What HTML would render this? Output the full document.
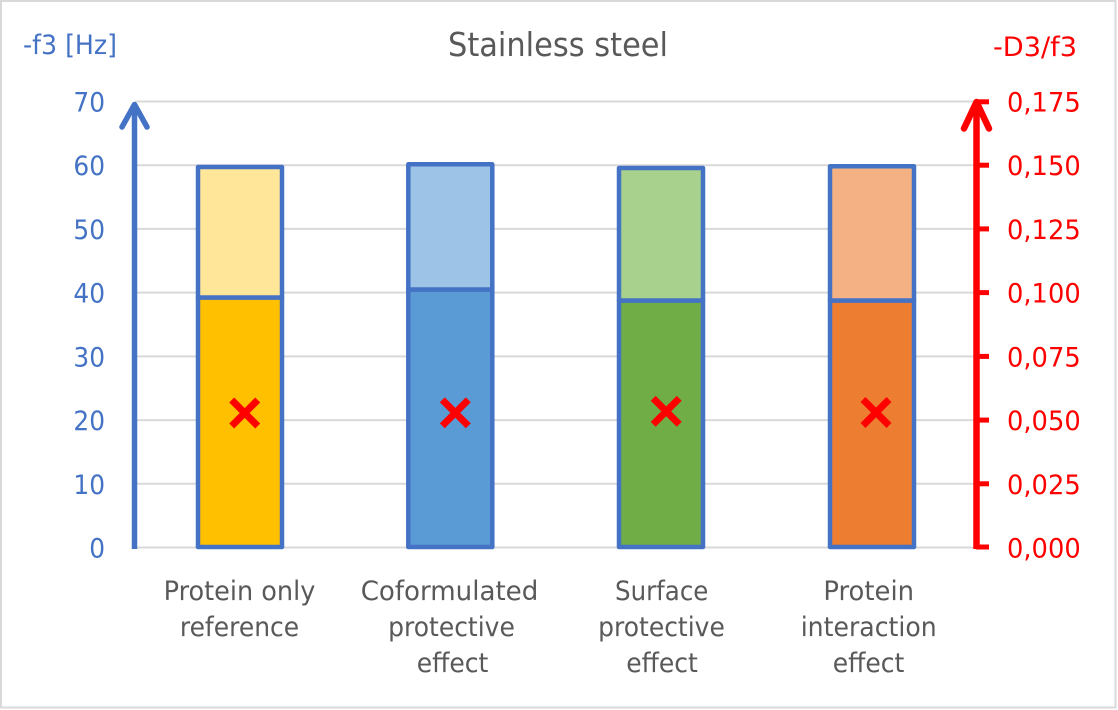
<!DOCTYPE html>
<html>
<head>
<meta charset="utf-8">
<style>
  html, body { margin:0; padding:0; background:#fff; }
  body { width:1118px; height:710px; overflow:hidden; }
  svg { display:block; }
  text { font-family: "DejaVu Sans", "Liberation Sans", sans-serif; }
</style>
</head>
<body>
<svg width="1118" height="710" viewBox="0 0 1118 710" xmlns="http://www.w3.org/2000/svg">
  <rect x="0" y="0" width="1118" height="710" fill="#fff"/>
  <rect x="1" y="1" width="1114.5" height="706.5" fill="none" stroke="#D9D9D9" stroke-width="2"/>

  <text x="558" y="56" font-size="33" fill="#595959" text-anchor="middle" textLength="220" lengthAdjust="spacingAndGlyphs">Stainless steel</text>

  <text x="23" y="54" font-size="27" fill="#4472C4" textLength="94" lengthAdjust="spacingAndGlyphs">-f3 [Hz]</text>
  <text x="993" y="56" font-size="27" fill="#FF0000" textLength="84" lengthAdjust="spacingAndGlyphs">-D3/f3</text>

  <g stroke="#D9D9D9" stroke-width="2">
    <line x1="135" y1="101.5" x2="976" y2="101.5"/>
    <line x1="135" y1="165.2" x2="976" y2="165.2"/>
    <line x1="135" y1="228.9" x2="976" y2="228.9"/>
    <line x1="135" y1="292.6" x2="976" y2="292.6"/>
    <line x1="135" y1="356.4" x2="976" y2="356.4"/>
    <line x1="135" y1="420.1" x2="976" y2="420.1"/>
    <line x1="135" y1="483.8" x2="976" y2="483.8"/>
    <line x1="135" y1="547.5" x2="976" y2="547.5"/>
  </g>

  <g font-size="27" fill="#4472C4" text-anchor="end">
    <text x="105" y="111.5" textLength="31.6" lengthAdjust="spacingAndGlyphs">70</text>
    <text x="105" y="175.2" textLength="31.6" lengthAdjust="spacingAndGlyphs">60</text>
    <text x="105" y="238.9" textLength="31.6" lengthAdjust="spacingAndGlyphs">50</text>
    <text x="105" y="302.6" textLength="31.6" lengthAdjust="spacingAndGlyphs">40</text>
    <text x="105" y="366.4" textLength="31.6" lengthAdjust="spacingAndGlyphs">30</text>
    <text x="105" y="430.1" textLength="31.6" lengthAdjust="spacingAndGlyphs">20</text>
    <text x="105" y="493.8" textLength="31.6" lengthAdjust="spacingAndGlyphs">10</text>
    <text x="105" y="557.5" textLength="15.8" lengthAdjust="spacingAndGlyphs">0</text>
  </g>

  <g font-size="27" fill="#FF0000">
    <text x="1007" y="111.5" textLength="73.7" lengthAdjust="spacingAndGlyphs">0,175</text>
    <text x="1007" y="175.2" textLength="73.7" lengthAdjust="spacingAndGlyphs">0,150</text>
    <text x="1007" y="238.9" textLength="73.7" lengthAdjust="spacingAndGlyphs">0,125</text>
    <text x="1007" y="302.6" textLength="73.7" lengthAdjust="spacingAndGlyphs">0,100</text>
    <text x="1007" y="366.4" textLength="73.7" lengthAdjust="spacingAndGlyphs">0,075</text>
    <text x="1007" y="430.1" textLength="73.7" lengthAdjust="spacingAndGlyphs">0,050</text>
    <text x="1007" y="493.8" textLength="73.7" lengthAdjust="spacingAndGlyphs">0,025</text>
    <text x="1007" y="557.5" textLength="73.7" lengthAdjust="spacingAndGlyphs">0,000</text>
  </g>

  <g stroke="#4472C4" stroke-width="4.5" stroke-linejoin="round">
    <rect x="198" y="297.5" width="84" height="249.5" fill="#FFC000"/>
    <rect x="198" y="167" width="84" height="130.5" fill="#FFE699"/>
    <rect x="408.3" y="289.5" width="84" height="257.5" fill="#5B9BD5"/>
    <rect x="408.3" y="164.3" width="84" height="125.2" fill="#9DC3E6"/>
    <rect x="619" y="300.5" width="84" height="246.5" fill="#70AD47"/>
    <rect x="619" y="168" width="84" height="132.5" fill="#A9D18E"/>
    <rect x="830" y="300.5" width="84" height="246.5" fill="#ED7D31"/>
    <rect x="830" y="166.3" width="84" height="134.2" fill="#F4B183"/>
  </g>

  <g stroke="#FF0000" stroke-width="7">
    <line x1="231.7" y1="400" x2="257.7" y2="426"/>
    <line x1="231.7" y1="426" x2="257.7" y2="400"/>
    <line x1="442.3" y1="399.8" x2="468.3" y2="425.8"/>
    <line x1="442.3" y1="425.8" x2="468.3" y2="399.8"/>
    <line x1="653.2" y1="398.3" x2="679.2" y2="424.3"/>
    <line x1="653.2" y1="424.3" x2="679.2" y2="398.3"/>
    <line x1="863" y1="399.5" x2="889" y2="425.5"/>
    <line x1="863" y1="425.5" x2="889" y2="399.5"/>
  </g>

  <line x1="134.5" y1="549" x2="134.5" y2="106" stroke="#4472C4" stroke-width="5.5"/>
  <polyline points="122,127 134.5,104.5 147,127" fill="none" stroke="#4472C4" stroke-width="5.5" stroke-linecap="round" stroke-linejoin="round"/>

  <g stroke="#FF0000">
    <line x1="976.5" y1="549" x2="976.5" y2="103" stroke-width="6.5"/>
    <g stroke-width="5">
      <line x1="976" y1="101.8" x2="989" y2="101.8"/>
      <line x1="976" y1="165.2" x2="989" y2="165.2"/>
      <line x1="976" y1="228.9" x2="989" y2="228.9"/>
      <line x1="976" y1="292.6" x2="989" y2="292.6"/>
      <line x1="976" y1="356.4" x2="989" y2="356.4"/>
      <line x1="976" y1="420.1" x2="989" y2="420.1"/>
      <line x1="976" y1="483.8" x2="989" y2="483.8"/>
      <line x1="976" y1="547" x2="989" y2="547"/>
    </g>
  </g>
  <polyline points="964,128.5 976.5,102 989,128.5" fill="none" stroke="#FF0000" stroke-width="6.5" stroke-linecap="round" stroke-linejoin="round"/>

  <g font-size="27" fill="#595959" text-anchor="middle">
    <text x="239.5" y="600" textLength="151.7" lengthAdjust="spacingAndGlyphs">Protein only</text>
    <text x="239.5" y="636" textLength="119.3" lengthAdjust="spacingAndGlyphs">reference</text>

    <text x="449.5" y="600" textLength="177.6" lengthAdjust="spacingAndGlyphs">Coformulated</text>
    <text x="451.5" y="636" textLength="126.7" lengthAdjust="spacingAndGlyphs">protective</text>
    <text x="452.5" y="672" textLength="71.6" lengthAdjust="spacingAndGlyphs">effect</text>

    <text x="661.7" y="600" textLength="93.3" lengthAdjust="spacingAndGlyphs">Surface</text>
    <text x="661.5" y="636" textLength="126.7" lengthAdjust="spacingAndGlyphs">protective</text>
    <text x="662" y="672" textLength="71.6" lengthAdjust="spacingAndGlyphs">effect</text>

    <text x="868.7" y="600" textLength="90.7" lengthAdjust="spacingAndGlyphs">Protein</text>
    <text x="868.7" y="636" textLength="136" lengthAdjust="spacingAndGlyphs">interaction</text>
    <text x="868.5" y="672" textLength="71.6" lengthAdjust="spacingAndGlyphs">effect</text>
  </g>
</svg>
</body>
</html>
